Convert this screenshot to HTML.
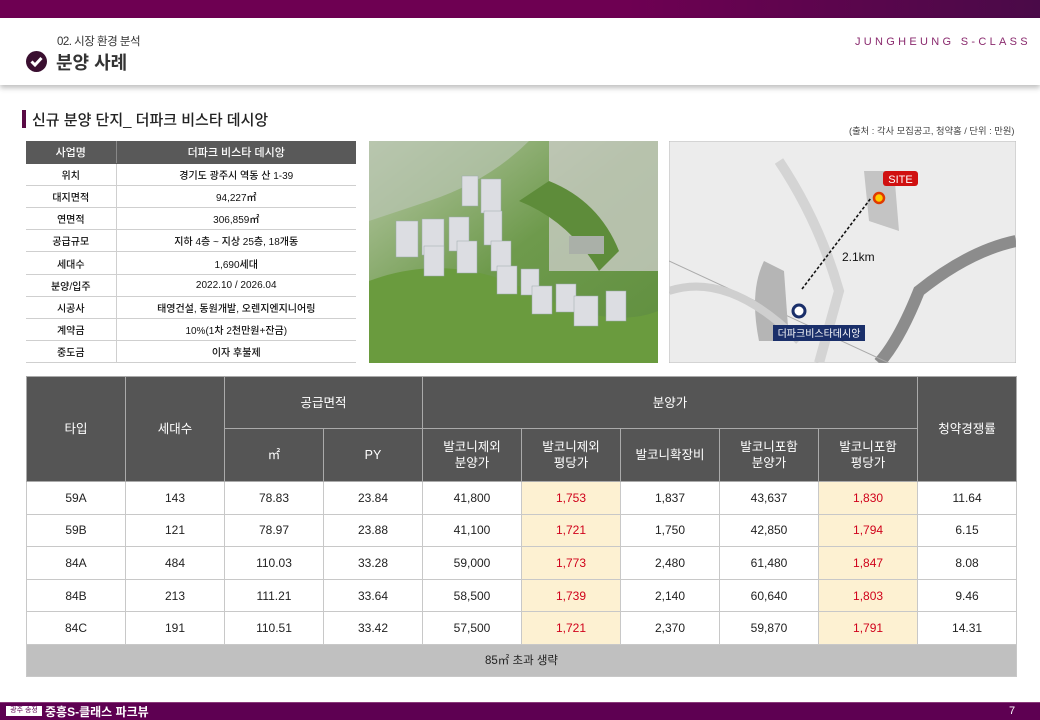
<!DOCTYPE html>
<html><head><meta charset="utf-8">
<style>
*{margin:0;padding:0;box-sizing:border-box}
body{width:1040px;height:720px;position:relative;background:#fff;font-family:"Liberation Sans","Noto Sans CJK KR",sans-serif;overflow:hidden;color:#222}
.abs{position:absolute}
table{border-collapse:collapse;table-layout:fixed}
#info td{height:22.2px;font-size:10px;text-align:center;border-bottom:1px solid #cfcfcf;color:#111;font-weight:500}
#info td.l{border-right:1px solid #cfcfcf}
#info tr.h td{background:#595959;color:#fff;font-size:11px;border-bottom:1px solid #595959}
#main td{text-align:center;font-size:12px;border:1px solid #c8c8c8;color:#222}
#main tr.h td{background:#555;color:#fff;font-size:12.5px;line-height:16px;border-color:#aaa}
#main td.y{background:#fdf1d2;color:#d0021b}
#main tr.d td{height:32.6px}
#main tr.f td{background:#c0c0c0;height:32px;font-size:11.5px}
</style></head><body>
<div class="abs" style="left:0;top:0;width:1040px;height:18px;background:linear-gradient(90deg,#6e0052 0%,#6e0052 60%,#4a0a48 100%)"></div>
<div class="abs" style="left:0;top:18px;width:1040px;height:67px;background:#fff;box-shadow:0 3px 5px rgba(0,0,0,.25)"></div>
<div class="abs" style="left:57px;top:33px;font-size:11.5px;color:#333;letter-spacing:-0.5px">02. 시장 환경 분석</div>
<div class="abs" style="left:26px;top:51px;width:21px;height:21px;border-radius:50%;background:#3a0f30">
<svg width="21" height="21"><path d="M5.5 10.5 L9 14 L15.5 7" stroke="#fff" stroke-width="3" fill="none"/></svg></div>
<div class="abs" style="left:56px;top:49px;font-size:18px;color:#333;font-weight:bold">분양 사례</div>
<div class="abs" style="left:855px;top:36px;font-size:11px;color:#8a2a6e;letter-spacing:3.3px">JUNGHEUNG S-CLASS</div>

<div class="abs" style="left:22px;top:110px;width:4px;height:18px;background:#5a0a45"></div>
<div class="abs" style="left:32px;top:109px;font-size:15px;color:#222;font-weight:500">신규 분양 단지_ 더파크 비스타 데시앙</div>
<div class="abs" style="left:849px;top:123px;font-size:9.3px;color:#444;white-space:nowrap">(출처 : 각사 모집공고, 청약홈 / 단위 : 만원)</div>

<table id="info" class="abs" style="left:26px;top:141px;width:330px">
<colgroup><col style="width:90px"><col style="width:240px"></colgroup>
<tr class="h"><td class="l" style="border-right:1px solid #888">사업명</td><td>더파크 비스타 데시앙</td></tr>
<tr><td class="l">위치</td><td>경기도 광주시 역동 산 1-39</td></tr>
<tr><td class="l">대지면적</td><td>94,227㎡</td></tr>
<tr><td class="l">연면적</td><td>306,859㎡</td></tr>
<tr><td class="l">공급규모</td><td>지하 4층 ~ 지상 25층, 18개동</td></tr>
<tr><td class="l">세대수</td><td>1,690세대</td></tr>
<tr><td class="l">분양/입주</td><td>2022.10 / 2026.04</td></tr>
<tr><td class="l">시공사</td><td>태영건설, 동원개발, 오렌지엔지니어링</td></tr>
<tr><td class="l">계약금</td><td>10%(1차 2천만원+잔금)</td></tr>
<tr><td class="l">중도금</td><td>이자 후불제</td></tr>
</table>

<svg class="abs" style="left:369px;top:141px" width="289" height="222">
<defs><linearGradient id="g1" x1="0" y1="0" x2="1" y2="1"><stop offset="0" stop-color="#b9c9a8"/><stop offset=".5" stop-color="#6e9a4c"/><stop offset="1" stop-color="#5f8e3e"/></linearGradient></defs>
<rect width="289" height="222" fill="url(#g1)"/>
<rect x="180" y="0" width="109" height="130" fill="#c9ccc4" opacity=".8"/>
<path d="M180 40 Q230 60 250 110 L230 130 Q200 80 150 60Z" fill="#5e8c3a"/>
<path d="M0 140 Q80 110 160 150 T289 170 L289 222 L0 222Z" fill="#6a9b3e"/>
<path d="M0 0 L160 0 Q120 40 60 60 L0 80Z" fill="#b8c5b0" opacity=".7"/>
<g fill="#dcdde2" stroke="#9aa" stroke-width=".5">
<rect x="27" y="80" width="22" height="36"/><rect x="53" y="78" width="22" height="36"/><rect x="80" y="76" width="20" height="34"/>
<rect x="93" y="35" width="16" height="30"/><rect x="112" y="38" width="20" height="34"/><rect x="115" y="70" width="18" height="34"/>
<rect x="55" y="105" width="20" height="30"/><rect x="88" y="100" width="20" height="32"/><rect x="122" y="100" width="20" height="30"/>
<rect x="128" y="125" width="20" height="28"/><rect x="152" y="128" width="18" height="26"/><rect x="163" y="145" width="20" height="28"/>
<rect x="187" y="143" width="20" height="28"/><rect x="205" y="155" width="24" height="30"/><rect x="237" y="150" width="20" height="30"/>
</g>
<rect x="200" y="95" width="35" height="18" fill="#aab0a8"/>
</svg>

<svg class="abs" style="left:669px;top:141px" width="347" height="222">
<rect width="347" height="222" fill="#ececec" stroke="#bbb"/>
<path d="M110 20 Q150 80 170 150 L150 222" stroke="#d4d4d4" stroke-width="10" fill="none"/>
<path d="M347 100 Q300 110 250 150 Q230 200 210 222" stroke="#8c8c8c" stroke-width="12" fill="none"/>
<path d="M0 120 L220 222" stroke="#aaa" stroke-width="1" fill="none"/>
<path d="M95 120 Q80 150 90 200 L120 200 L115 130Z" fill="#b5b5b5"/>
<path d="M195 30 L225 30 L230 90 L200 80Z" fill="#c4c4c4"/>
<path d="M0 150 Q60 130 130 200" stroke="#cfcfcf" stroke-width="8" fill="none"/>
<line x1="133" y1="148" x2="202" y2="57" stroke="#111" stroke-width="1.6" stroke-dasharray="3,2"/>
<circle cx="210" cy="57" r="5" fill="#ffcc00" stroke="#e03a00" stroke-width="2.5"/>
<rect x="214" y="30" width="35" height="15" rx="3" fill="#d01010"/>
<text x="231.5" y="42" font-size="11" fill="#fff" text-anchor="middle" font-family="Liberation Sans">SITE</text>
<text x="173" y="120" font-size="12" fill="#111" font-family="Liberation Sans">2.1km</text>
<circle cx="130" cy="170" r="6" fill="#fff" stroke="#1a2f6a" stroke-width="3"/>
<rect x="104" y="184" width="92" height="16" fill="#1a2f6a"/>
<text x="150" y="196" font-size="10" fill="#fff" text-anchor="middle" font-family="Liberation Sans,Noto Sans CJK KR,sans-serif">더파크비스타데시앙</text>
</svg>

<table id="main" class="abs" style="left:26px;top:376px;width:990px">
<colgroup><col span="10" style="width:99px"></colgroup>
<tr class="h" style="height:52px"><td rowspan="2">타입</td><td rowspan="2">세대수</td><td colspan="2">공급면적</td><td colspan="5">분양가</td><td rowspan="2">청약경쟁률</td></tr>
<tr class="h" style="height:53px"><td>㎡</td><td>PY</td><td>발코니제외<br>분양가</td><td>발코니제외<br>평당가</td><td>발코니확장비</td><td>발코니포함<br>분양가</td><td>발코니포함<br>평당가</td></tr>
<tr class="d"><td>59A</td><td>143</td><td>78.83</td><td>23.84</td><td>41,800</td><td class="y">1,753</td><td>1,837</td><td>43,637</td><td class="y">1,830</td><td>11.64</td></tr>
<tr class="d"><td>59B</td><td>121</td><td>78.97</td><td>23.88</td><td>41,100</td><td class="y">1,721</td><td>1,750</td><td>42,850</td><td class="y">1,794</td><td>6.15</td></tr>
<tr class="d"><td>84A</td><td>484</td><td>110.03</td><td>33.28</td><td>59,000</td><td class="y">1,773</td><td>2,480</td><td>61,480</td><td class="y">1,847</td><td>8.08</td></tr>
<tr class="d"><td>84B</td><td>213</td><td>111.21</td><td>33.64</td><td>58,500</td><td class="y">1,739</td><td>2,140</td><td>60,640</td><td class="y">1,803</td><td>9.46</td></tr>
<tr class="d"><td>84C</td><td>191</td><td>110.51</td><td>33.42</td><td>57,500</td><td class="y">1,721</td><td>2,370</td><td>59,870</td><td class="y">1,791</td><td>14.31</td></tr>
<tr class="f"><td colspan="10">85㎡ 초과 생략</td></tr>
</table>

<div class="abs" style="left:0;top:702px;width:1040px;height:18px;background:#5e0052;border-top:1px solid #8a3a7a"></div>
<div class="abs" style="left:6px;top:706px;width:36px;height:10px;background:#fff;color:#5e0052;font-size:7px;line-height:10px;text-align:center">광주 송정</div>
<div class="abs" style="left:45px;top:703px;font-size:12px;color:#fff;font-weight:bold">중흥S-클래스 파크뷰</div>
<div class="abs" style="left:1009px;top:705px;font-size:11px;color:#fff">7</div>
</body></html>
